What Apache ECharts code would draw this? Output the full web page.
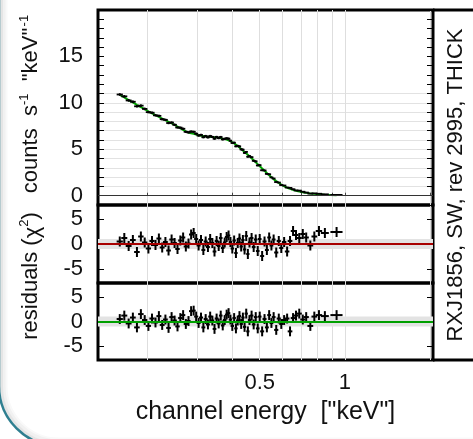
<!DOCTYPE html>
<html><head><meta charset="utf-8">
<script src="https://cdn.jsdelivr.net/npm/echarts@6/dist/echarts.min.js"></script>
<style>html,body{margin:0;padding:0;background:#fff}#c{width:473px;height:439px}</style>
</head><body><div id="c"></div>
<script>
// ---------- data ----------
const energy = [0.160,0.166,0.172,0.178,0.184,0.190,0.196,0.202,0.208,0.214,0.220,0.226,0.232,0.238,0.244,0.250,0.256,0.262,0.268,0.274,0.280,0.286,0.292,0.298,0.304,0.310,0.316,0.322,0.328,0.334,0.340,0.346,0.352,0.358,0.364,0.370,0.376,0.382,0.388,0.394,0.400,0.406,0.412,0.418,0.424,0.430,0.436,0.442,0.448,0.454,0.460,0.468,0.476,0.484,0.492,0.500,0.510,0.520,0.530,0.540,0.550,0.560,0.572,0.584,0.596,0.610,0.625,0.640,0.656,0.672,0.690,0.710,0.730,0.755,0.780,0.810,0.850,0.935];
const binHalfWidth = [0.003,0.003,0.003,0.003,0.003,0.003,0.003,0.003,0.003,0.003,0.003,0.003,0.003,0.003,0.003,0.003,0.003,0.003,0.003,0.003,0.003,0.003,0.003,0.003,0.003,0.003,0.003,0.003,0.003,0.003,0.003,0.003,0.003,0.003,0.003,0.003,0.003,0.003,0.003,0.003,0.003,0.003,0.003,0.003,0.003,0.003,0.003,0.003,0.003,0.003,0.003,0.004,0.004,0.004,0.004,0.004,0.005,0.005,0.005,0.005,0.005,0.005,0.006,0.006,0.006,0.007,0.0075,0.008,0.008,0.009,0.010,0.010,0.011,0.013,0.013,0.016,0.022,0.040];
const counts = [10.90,10.70,10.26,10.12,9.63,9.70,9.35,9.00,8.94,8.66,8.60,8.24,8.17,7.83,7.88,7.64,7.35,7.33,7.21,6.88,6.82,6.91,6.88,6.68,6.48,6.54,6.30,6.43,6.29,6.43,6.33,6.14,6.33,6.20,6.32,6.07,6.13,6.18,6.14,5.92,5.68,5.71,5.32,5.37,5.31,4.99,4.96,4.61,4.72,4.20,4.27,4.15,3.76,3.70,3.26,3.29,2.74,2.72,2.35,2.31,1.97,1.85,1.47,1.42,1.15,1.10,0.88,0.84,0.70,0.57,0.55,0.43,0.34,0.23,0.25,0.21,0.15,0.09];
const countsErr = [0.14,0.14,0.14,0.14,0.14,0.14,0.14,0.13,0.13,0.13,0.13,0.13,0.13,0.13,0.13,0.13,0.12,0.12,0.12,0.12,0.12,0.12,0.12,0.12,0.12,0.12,0.12,0.12,0.12,0.12,0.12,0.12,0.12,0.12,0.12,0.12,0.12,0.12,0.12,0.12,0.11,0.11,0.11,0.11,0.11,0.11,0.11,0.11,0.10,0.10,0.10,0.10,0.10,0.10,0.09,0.09,0.09,0.08,0.08,0.08,0.07,0.07,0.07,0.06,0.06,0.06,0.05,0.05,0.05,0.04,0.04,0.04,0.03,0.03,0.03,0.03,0.02,0.02];
const model = [10.85,10.58,10.30,10.04,9.79,9.55,9.32,9.09,8.88,8.68,8.49,8.31,8.13,7.96,7.79,7.62,7.45,7.26,7.08,6.93,6.81,6.72,6.66,6.58,6.51,6.46,6.42,6.38,6.35,6.33,6.31,6.29,6.27,6.24,6.20,6.15,6.10,6.04,5.97,5.88,5.77,5.64,5.50,5.35,5.20,5.04,4.88,4.72,4.56,4.40,4.24,4.03,3.82,3.61,3.40,3.19,2.93,2.68,2.44,2.21,1.99,1.79,1.57,1.38,1.20,1.02,0.86,0.74,0.63,0.54,0.46,0.38,0.31,0.25,0.20,0.16,0.11,0.05];
const residMid = [0.5,1.2,-0.4,0.8,-1.6,1.5,0.3,-0.9,0.6,-0.2,1.1,-0.7,0.4,-1.3,0.9,0.2,-1.0,0.7,1.3,-0.5,0.1,1.9,2.2,1.0,-0.3,0.8,-1.2,0.5,-0.6,1.0,0.2,-1.5,0.6,-0.4,1.2,-0.8,0.3,1.4,1.7,0.4,-0.9,0.7,-1.8,0.2,1.1,-0.5,0.8,-1.1,1.6,-2.0,0.3,1.2,-0.6,0.9,-1.4,1.0,-2.4,0.5,-1.2,1.3,-0.3,0.9,-1.7,0.6,-0.8,0.4,-1.5,0.6,2.6,1.8,1.2,2.0,1.3,-0.3,1.5,2.6,2.2,2.4];
const residLow = [0.5,1.2,-0.4,0.8,-1.2,1.5,0.3,-0.9,0.6,-0.2,1.1,-0.7,0.4,-1.3,0.9,0.2,-1.0,0.7,1.3,-0.5,0.1,2.1,2.2,1.0,-0.3,0.8,-1.2,0.5,-0.6,1.0,0.2,-1.5,0.6,-0.4,1.2,-0.8,0.3,1.4,1.7,0.4,-0.9,0.7,-1.4,0.2,1.1,-0.5,0.8,-1.1,1.6,-2.0,0.3,1.2,-0.6,0.9,-1.4,1.0,-2.0,0.5,-1.2,1.3,-0.3,0.9,-1.7,0.6,-0.5,0.3,0.6,-2.0,0.7,1.2,1.6,0.4,0.9,-0.9,1.0,1.3,1.1,1.3];
const residSigma = 1;
const xTickValues = [0.2,0.3,0.4,0.5,0.6,0.7,0.8,0.9,1,2];
const xLabelValues = [0.5,1];
const topTickValues = [-1,0,1,2,3,4,5,6,7,8,9,10,11,12,13,14,15,16,17,18,19,20];
const topGridValues = [0,1,2,3,4,5,6,7,8,9,10,11];
const topLabelValues = [0,5,10,15];
const residLabelValues = [-5,0,5];

// ---------- build ----------
const FONT = 'Liberation Sans';
const X_MIN = 0.134, X_MAX = 2.05;
const grids = [
  {left:98, top:10, width:335, height:195},
  {left:98, top:205, width:335, height:78},
  {left:98, top:283, width:335, height:77}
];
const spectrumData = energy.map((e,i)=>[e, counts[i], binHalfWidth[i], countsErr[i]]);
const modelData = energy.map((e,i)=>[e, model[i]]);
const midData = energy.map((e,i)=>[e, residMid[i], binHalfWidth[i], residSigma]);
const lowData = energy.map((e,i)=>[e, residLow[i], binHalfWidth[i], residSigma]);

function makeCross(width){
  return function(params, api){
    const x=api.value(0), y=api.value(1), dx=api.value(2), dy=api.value(3);
    const l=api.coord([x-dx,y]), r=api.coord([x+dx,y]);
    const t=api.coord([x,y+dy]), b=api.coord([x,y-dy]);
    const st={stroke:'#000', lineWidth:width};
    return {type:'group', children:[
      {type:'line', shape:{x1:l[0]-0.8,y1:l[1],x2:r[0]+0.8,y2:r[1]}, style:st},
      {type:'line', shape:{x1:t[0],y1:t[1],x2:b[0],y2:b[1]}, style:st}
    ]};
  };
}

function xAxisFor(i){
  return {type:'log', logBase:10, gridIndex:i, min:X_MIN, max:X_MAX,
    axisLine:{show:false},
    axisTick:{show:true, inside:true, length:3, customValues:xTickValues, lineStyle:{color:'#444',width:1}},
    axisLabel:{show:false},
    splitLine:{show:true, lineStyle:{color:'#dedede', width:1}}};
}
const xAxes=[xAxisFor(0), xAxisFor(1), xAxisFor(2),
  {type:'log', logBase:10, gridIndex:2, min:X_MIN, max:X_MAX, position:'bottom',
   axisLine:{show:false},
   axisTick:{show:true, inside:false, length:4, customValues:xLabelValues, lineStyle:{color:'#000',width:1.5}},
   axisLabel:{show:true, customValues:xLabelValues, margin:12, fontFamily:FONT, fontSize:22, color:'#111',
     formatter:v=>String(v)},
   splitLine:{show:false},
   name:'channel energy  ["keV"]', nameLocation:'middle', nameGap:40,
   nameTextStyle:{fontFamily:FONT, fontSize:25, color:'#111'}}
];

function yAxisFor(i, min, max, labels, ticks, pos, showLabel){
  return {type:'value', gridIndex:i, min:min, max:max, position:pos,
    axisLine:{show:false},
    axisTick:{show:true, inside:true, length:6, customValues:ticks, lineStyle:{color:'#000',width:1}},
    axisLabel:{show:showLabel, customValues:labels, margin:15, fontFamily:FONT, fontSize:22, color:'#111'},
    splitLine:{show:false}};
}
const yAxes=[
  yAxisFor(0,-1,20,topLabelValues,topTickValues,'left',true),
  yAxisFor(0,-1,20,topLabelValues,topTickValues,'right',false),
  {type:'value', gridIndex:0, min:-1, max:20, position:'left', axisLine:{show:false},
   axisTick:{show:false, customValues:topGridValues}, axisLabel:{show:false},
   splitLine:{show:true, lineStyle:{color:'#e2e2e2', width:1}}},
  yAxisFor(1,-7.8,7.8,residLabelValues,residLabelValues,'left',true),
  yAxisFor(1,-7.8,7.8,residLabelValues,residLabelValues,'right',false),
  yAxisFor(2,-7.8,7.8,residLabelValues,residLabelValues,'left',true),
  yAxisFor(2,-7.8,7.8,residLabelValues,residLabelValues,'right',false)
];

function refLines(xi, yi, color){
  return {type:'line', xAxisIndex:xi, yAxisIndex:yi, data:[], z:1, silent:true,
    markArea:{silent:true, itemStyle:{color:'#e3e3e3'}, data:[[{yAxis:-1},{yAxis:1}]]},
    markLine:{silent:true, symbol:'none', label:{show:false}, lineStyle:{color:color, width:2, type:'solid'}, data:[{yAxis:0}]}};
}

const option={
  animation:false,
  backgroundColor:'#fff',
  grid:grids.map(g=>Object.assign({show:true, borderColor:'#000', borderWidth:3, backgroundColor:'transparent'}, g)),
  xAxis:xAxes,
  yAxis:yAxes,
  series:[
    {type:'line', xAxisIndex:0, yAxisIndex:0, data:modelData, showSymbol:false, z:2,
     lineStyle:{color:'#00a000', width:2},
     markLine:{silent:true, symbol:'none', label:{show:false}, lineStyle:{color:'#333', width:1, type:'solid'}, data:[{yAxis:0}]}},
    {type:'custom', xAxisIndex:0, yAxisIndex:0, data:spectrumData, renderItem:makeCross(1.8), z:3, encode:{x:0,y:1}},
    refLines(1,3,'#a80000'),
    {type:'custom', xAxisIndex:1, yAxisIndex:3, data:midData, renderItem:makeCross(2), z:3, encode:{x:0,y:1}},
    refLines(2,5,'#00a000'),
    {type:'custom', xAxisIndex:2, yAxisIndex:5, data:lowData, renderItem:makeCross(2), z:3, encode:{x:0,y:1}}
  ],
  graphic:[
    {type:'rect', z:-10, silent:true, shape:{x:6, y:-200, width:700, height:639, r:53}, style:{fill:'none', stroke:'#f9f9f9', lineWidth:3}},
    {type:'rect', z:-10, silent:true, shape:{x:4, y:-200, width:700, height:641, r:55}, style:{fill:'none', stroke:'#f1f1f1', lineWidth:3}},
    {type:'rect', z:-10, silent:true, shape:{x:1.5, y:-200, width:700, height:644, r:58}, style:{fill:'none', stroke:'#e5e5e5', lineWidth:3}},
    {type:'rect', z:-9, silent:true, shape:{x:-1, y:-200, width:700, height:646, r:60}, style:{fill:'none', stroke:'#2f7f90', lineWidth:2.5}},
    {type:'line', silent:true, shape:{x1:433, y1:10, x2:475, y2:10}, style:{stroke:'#000', lineWidth:3}},
    {type:'line', silent:true, shape:{x1:433, y1:360, x2:475, y2:360}, style:{stroke:'#000', lineWidth:3}},
    {type:'text', silent:true, x:456, y:185, rotation:Math.PI/2,
     style:{text:'RXJ1856, SW, rev 2995, THICK', font:'22px "Liberation Sans"', fill:'#111', align:'center', verticalAlign:'middle'}},
    {type:'text', silent:true, x:31, y:276, rotation:Math.PI/2,
     style:{text:'residuals ({g|χ}{sup|2})', font:'22px "Liberation Sans"', fill:'#111', align:'center', verticalAlign:'middle',
       rich:{g:{fontFamily:FONT, fontSize:22, fill:'#111', lineHeight:26, verticalAlign:'bottom'}, sup:{fontFamily:FONT, fontSize:13, fill:'#111', verticalAlign:'top', lineHeight:26}}}},
    {type:'text', silent:true, x:31, y:104, rotation:Math.PI/2,
     style:{text:'counts  s{sup|-1}  "keV"{sp| }{sup|-1}', font:'22px "Liberation Sans"', fill:'#111', align:'center', verticalAlign:'middle',
       rich:{sp:{fontFamily:FONT, fontSize:5, lineHeight:26}, sup:{fontFamily:FONT, fontSize:13, fill:'#111', verticalAlign:'top', lineHeight:26}}}}
  ]
};
const chart=echarts.init(document.getElementById('c'), null, {renderer:'canvas'});
chart.setOption(option);
</script></body></html>
